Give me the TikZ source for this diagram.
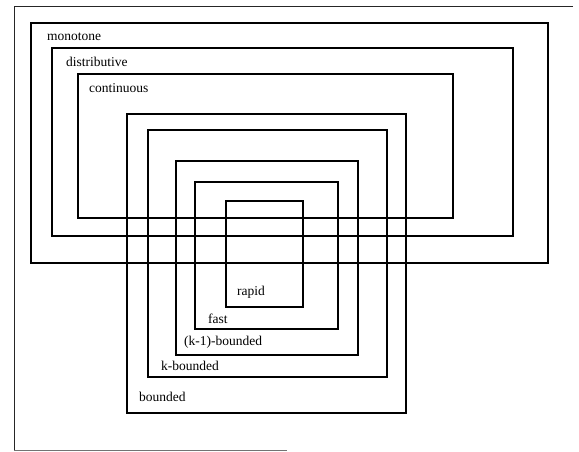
\documentclass[tikz,border=0pt]{standalone}
\usepackage{fontspec}
\setmainfont{Liberation Serif}
\begin{document}
\begin{tikzpicture}[x=1pt,y=-1pt,
  setbox/.style={draw=black,line width=1.1pt},
  frame/.style={draw=black!85,line width=0.9pt},
  lbl/.style={anchor=base west,inner sep=0pt,font=\fontsize{13.5}{16}\selectfont}]
\useasboundingbox (0,0) rectangle (579,452);
% outer frame
\coordinate (ftr) at (573,6);
\coordinate (ftl) at (14,6);
\coordinate (fbl) at (14,450.5);
\coordinate (fbr) at (287,450.5);
\draw[frame] (ftr) -- (ftl) -- (fbl);
\draw[draw=black!55,line width=0.9pt] (fbl) -- (fbr);
% sets
\draw[setbox] (31,23) rectangle (548,263);
\draw[setbox] (52,48) rectangle (513,236);
\draw[setbox] (78,74) rectangle (453,218);
\draw[setbox] (127,114) rectangle (406,413);
\draw[setbox] (148,130) rectangle (387,377);
\draw[setbox] (176,161) rectangle (358,355);
\draw[setbox] (195,182) rectangle (338,329);
\draw[setbox] (226,201) rectangle (303,307);
% labels
\node[lbl] (mono) at (47,41) {monotone};
\node[lbl] (dist) at (66,67) {distributive};
\node[lbl] (cont) at (89,93) {continuous};
\node[lbl] (rapid) at (237,295) {rapid};
\node[lbl] (fast) at (208,323) {fast};
\node[lbl] (kmb) at (184,345) {(k-1)-bounded};
\node[lbl] (kb) at (161,370) {k-bounded};
\node[lbl] (bd) at (139,401) {bounded};
\end{tikzpicture}
\end{document}
